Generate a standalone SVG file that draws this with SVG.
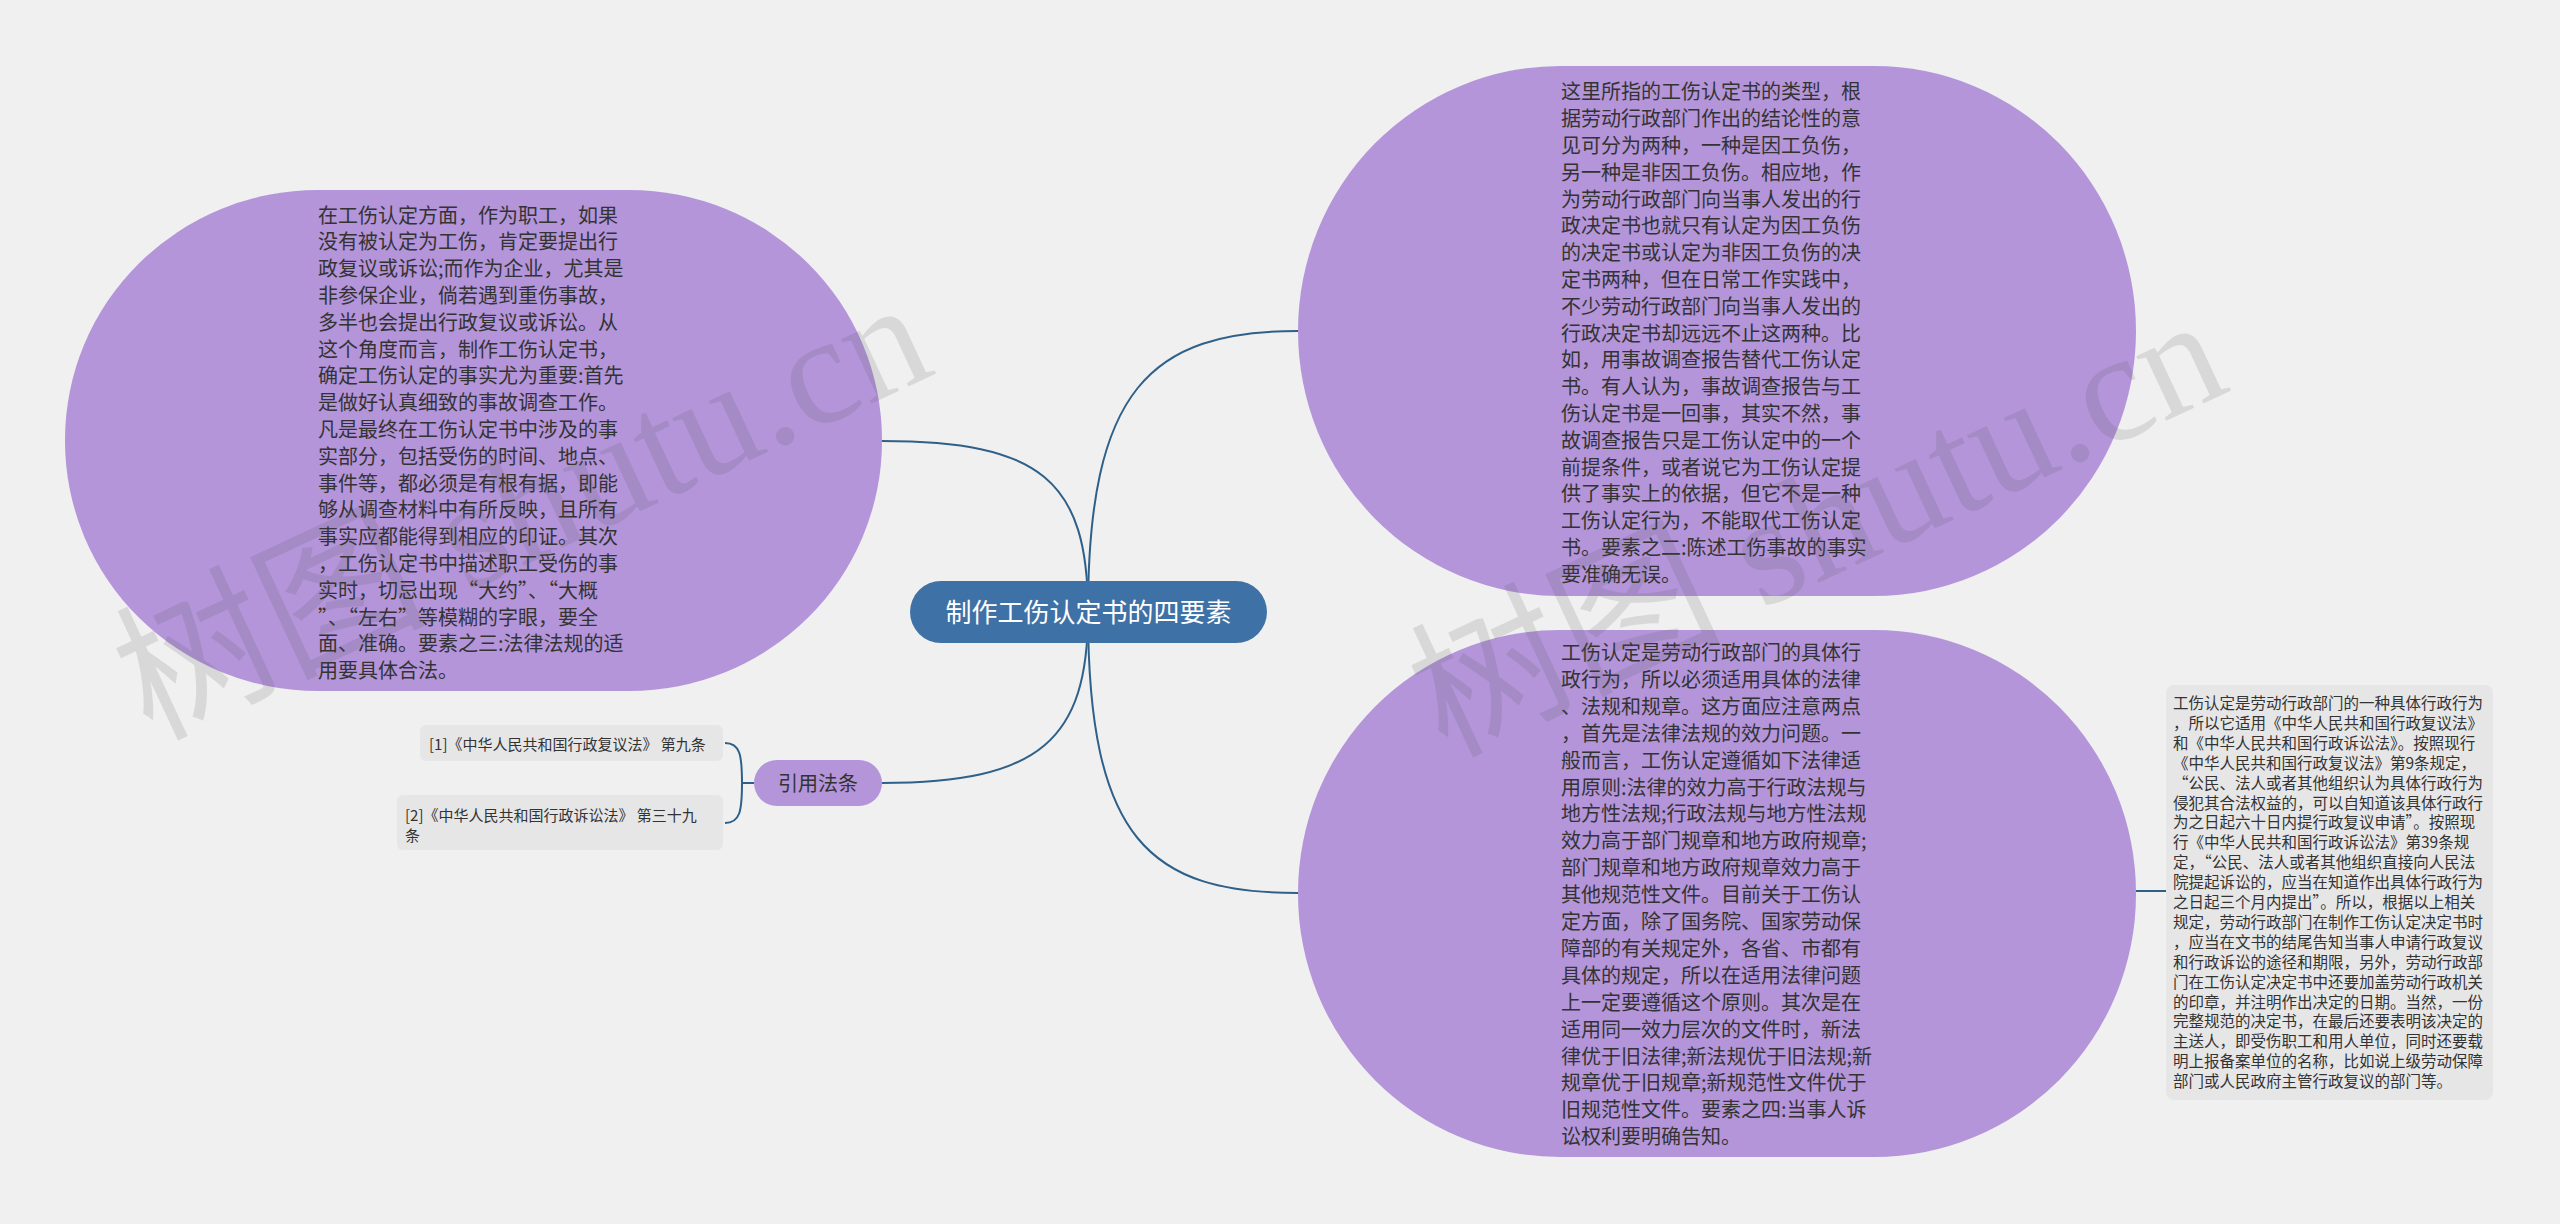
<svg xmlns="http://www.w3.org/2000/svg" width="2560" height="1224" viewBox="0 0 2560 1224">
<style>
.bg{fill:#f0f0f0}
.big{fill:#b495da}
.bt{font-family:"Noto Sans CJK SC","Noto Sans",sans-serif;font-size:20px;fill:#333}
.center{fill:#3e71a5}
.ct{font-family:"Noto Sans CJK SC","Noto Sans",sans-serif;font-size:26px;fill:#ffffff;text-anchor:middle}
.leaf{fill:#e6e6e6}
.lt{font-family:"Noto Sans CJK SC","Noto Sans",sans-serif;font-size:15px;fill:#333}
.gt{font-family:"Noto Sans CJK SC","Noto Sans",sans-serif;font-size:15.5px;fill:#333}
.conn{fill:none;stroke:#2f6089;stroke-width:2}
.wm{font-family:"Liberation Serif","Noto Sans CJK SC",serif;font-size:155px;fill:#555;opacity:0.15}
</style>
<rect class="bg" x="0" y="0" width="2560" height="1224"/>

<g id="connectors">
<path class="conn" d="M1088 612 C1088 390 1150 331 1298 331"/>
<path class="conn" d="M1088 612 C1088 480 1040 441 882 441"/>
<path class="conn" d="M1088 612 C1088 840 1150 893 1298 893"/>
<path class="conn" d="M1088 612 C1088 740 1040 783 882 783"/>
<path class="conn" d="M754 783 L742 783 C742 755 740 743 725 743"/>
<path class="conn" d="M742 783 C742 811 740 823 725 823"/>
<path class="conn" d="M2136 891 L2166 891"/>
</g>

<g id="node-left">
<rect class="big" x="65" y="190" width="817" height="501" rx="253" ry="250"/>
<text class="bt">
<tspan x="318" y="222.6">在工伤认定方面，作为职工，如果</tspan>
<tspan x="318" y="249.4">没有被认定为工伤，肯定要提出行</tspan>
<tspan x="318" y="276.2">政复议或诉讼;而作为企业，尤其是</tspan>
<tspan x="318" y="303">非参保企业，倘若遇到重伤事故，</tspan>
<tspan x="318" y="329.8">多半也会提出行政复议或诉讼。从</tspan>
<tspan x="318" y="356.6">这个角度而言，制作工伤认定书，</tspan>
<tspan x="318" y="383.4">确定工伤认定的事实尤为重要:首先</tspan>
<tspan x="318" y="410.2">是做好认真细致的事故调查工作。</tspan>
<tspan x="318" y="437">凡是最终在工伤认定书中涉及的事</tspan>
<tspan x="318" y="463.8">实部分，包括受伤的时间、地点、</tspan>
<tspan x="318" y="490.6">事件等，都必须是有根有据，即能</tspan>
<tspan x="318" y="517.4">够从调查材料中有所反映，且所有</tspan>
<tspan x="318" y="544.2">事实应都能得到相应的印证。其次</tspan>
<tspan x="318" y="571">，工伤认定书中描述职工受伤的事</tspan>
<tspan x="318" y="597.8">实时，切忌出现“大约”、“大概</tspan>
<tspan x="318" y="624.6">”、“左右”等模糊的字眼，要全</tspan>
<tspan x="318" y="651.4">面、准确。要素之三:法律法规的适</tspan>
<tspan x="318" y="678.2">用要具体合法。</tspan>
</text>
</g>

<g id="node-top-right">
<rect class="big" x="1298" y="66" width="838" height="530" rx="262" ry="265"/>
<text class="bt">
<tspan x="1561" y="99.3">这里所指的工伤认定书的类型，根</tspan>
<tspan x="1561" y="126.1">据劳动行政部门作出的结论性的意</tspan>
<tspan x="1561" y="152.9">见可分为两种，一种是因工负伤，</tspan>
<tspan x="1561" y="179.7">另一种是非因工负伤。相应地，作</tspan>
<tspan x="1561" y="206.5">为劳动行政部门向当事人发出的行</tspan>
<tspan x="1561" y="233.3">政决定书也就只有认定为因工负伤</tspan>
<tspan x="1561" y="260.1">的决定书或认定为非因工负伤的决</tspan>
<tspan x="1561" y="286.9">定书两种，但在日常工作实践中，</tspan>
<tspan x="1561" y="313.7">不少劳动行政部门向当事人发出的</tspan>
<tspan x="1561" y="340.5">行政决定书却远远不止这两种。比</tspan>
<tspan x="1561" y="367.3">如，用事故调查报告替代工伤认定</tspan>
<tspan x="1561" y="394.1">书。有人认为，事故调查报告与工</tspan>
<tspan x="1561" y="420.9">伤认定书是一回事，其实不然，事</tspan>
<tspan x="1561" y="447.7">故调查报告只是工伤认定中的一个</tspan>
<tspan x="1561" y="474.5">前提条件，或者说它为工伤认定提</tspan>
<tspan x="1561" y="501.3">供了事实上的依据，但它不是一种</tspan>
<tspan x="1561" y="528.1">工伤认定行为，不能取代工伤认定</tspan>
<tspan x="1561" y="554.9">书。要素之二:陈述工伤事故的事实</tspan>
<tspan x="1561" y="581.7">要准确无误。</tspan>
</text>
</g>

<g id="node-bottom-right">
<rect class="big" x="1298" y="630" width="838" height="527" rx="262" ry="263"/>
<text class="bt">
<tspan x="1561" y="660">工伤认定是劳动行政部门的具体行</tspan>
<tspan x="1561" y="686.9">政行为，所以必须适用具体的法律</tspan>
<tspan x="1561" y="713.8">、法规和规章。这方面应注意两点</tspan>
<tspan x="1561" y="740.7">，首先是法律法规的效力问题。一</tspan>
<tspan x="1561" y="767.6">般而言，工伤认定遵循如下法律适</tspan>
<tspan x="1561" y="794.5">用原则:法律的效力高于行政法规与</tspan>
<tspan x="1561" y="821.4">地方性法规;行政法规与地方性法规</tspan>
<tspan x="1561" y="848.3">效力高于部门规章和地方政府规章;</tspan>
<tspan x="1561" y="875.2">部门规章和地方政府规章效力高于</tspan>
<tspan x="1561" y="902.1">其他规范性文件。目前关于工伤认</tspan>
<tspan x="1561" y="929">定方面，除了国务院、国家劳动保</tspan>
<tspan x="1561" y="955.9">障部的有关规定外，各省、市都有</tspan>
<tspan x="1561" y="982.8">具体的规定，所以在适用法律问题</tspan>
<tspan x="1561" y="1009.7">上一定要遵循这个原则。其次是在</tspan>
<tspan x="1561" y="1036.6">适用同一效力层次的文件时，新法</tspan>
<tspan x="1561" y="1063.5">律优于旧法律;新法规优于旧法规;新</tspan>
<tspan x="1561" y="1090.4">规章优于旧规章;新规范性文件优于</tspan>
<tspan x="1561" y="1117.3">旧规范性文件。要素之四:当事人诉</tspan>
<tspan x="1561" y="1144.2">讼权利要明确告知。</tspan>
</text>
</g>

<g id="node-note">
<rect class="leaf" x="2166" y="685" width="327" height="415" rx="8"/>
<text class="gt">
<tspan x="2173" y="709">工伤认定是劳动行政部门的一种具体行政行为</tspan>
<tspan x="2173" y="728.9">，所以它适用《中华人民共和国行政复议法》</tspan>
<tspan x="2173" y="748.8">和《中华人民共和国行政诉讼法》。按照现行</tspan>
<tspan x="2173" y="768.7">《中华人民共和国行政复议法》第9条规定，</tspan>
<tspan x="2173" y="788.6">“公民、法人或者其他组织认为具体行政行为</tspan>
<tspan x="2173" y="808.5">侵犯其合法权益的，可以自知道该具体行政行</tspan>
<tspan x="2173" y="828.4">为之日起六十日内提行政复议申请”。按照现</tspan>
<tspan x="2173" y="848.3">行《中华人民共和国行政诉讼法》第39条规</tspan>
<tspan x="2173" y="868.2">定，“公民、法人或者其他组织直接向人民法</tspan>
<tspan x="2173" y="888.1">院提起诉讼的，应当在知道作出具体行政行为</tspan>
<tspan x="2173" y="908">之日起三个月内提出”。所以，根据以上相关</tspan>
<tspan x="2173" y="927.9">规定，劳动行政部门在制作工伤认定决定书时</tspan>
<tspan x="2173" y="947.8">，应当在文书的结尾告知当事人申请行政复议</tspan>
<tspan x="2173" y="967.7">和行政诉讼的途径和期限，另外，劳动行政部</tspan>
<tspan x="2173" y="987.6">门在工伤认定决定书中还要加盖劳动行政机关</tspan>
<tspan x="2173" y="1007.5">的印章，并注明作出决定的日期。当然，一份</tspan>
<tspan x="2173" y="1027.4">完整规范的决定书，在最后还要表明该决定的</tspan>
<tspan x="2173" y="1047.3">主送人，即受伤职工和用人单位，同时还要载</tspan>
<tspan x="2173" y="1067.2">明上报备案单位的名称，比如说上级劳动保障</tspan>
<tspan x="2173" y="1087.1">部门或人民政府主管行政复议的部门等。</tspan>
</text>
</g>

<g id="node-center">
<rect class="center" x="910" y="581" width="357" height="62" rx="31"/>
<text class="ct" x="1088.5" y="622">制作工伤认定书的四要素</text>
</g>

<g id="node-cite">
<rect class="big" x="754" y="760" width="128" height="46" rx="23"/>
<text class="bt" x="818" y="790.6" text-anchor="middle">引用法条</text>
</g>

<g id="leaf-1">
<rect class="leaf" x="420" y="725" width="303" height="36" rx="6"/>
<text class="lt" x="429" y="749.7">[1]《中华人民共和国行政复议法》 第九条</text>
</g>

<g id="leaf-2">
<rect class="leaf" x="397" y="795" width="326" height="55" rx="6"/>
<text class="lt"><tspan x="405" y="820.7">[2]《中华人民共和国行政诉讼法》 第三十九</tspan><tspan x="405" y="840.7">条</tspan></text>
</g>

<g id="watermarks">
<text class="wm" x="150" y="740" transform="rotate(-25 150 740)">树图 shutu.cn</text>
<text class="wm" x="1445" y="757" transform="rotate(-25 1445 757)">树图 shutu.cn</text>
</g>
</svg>
